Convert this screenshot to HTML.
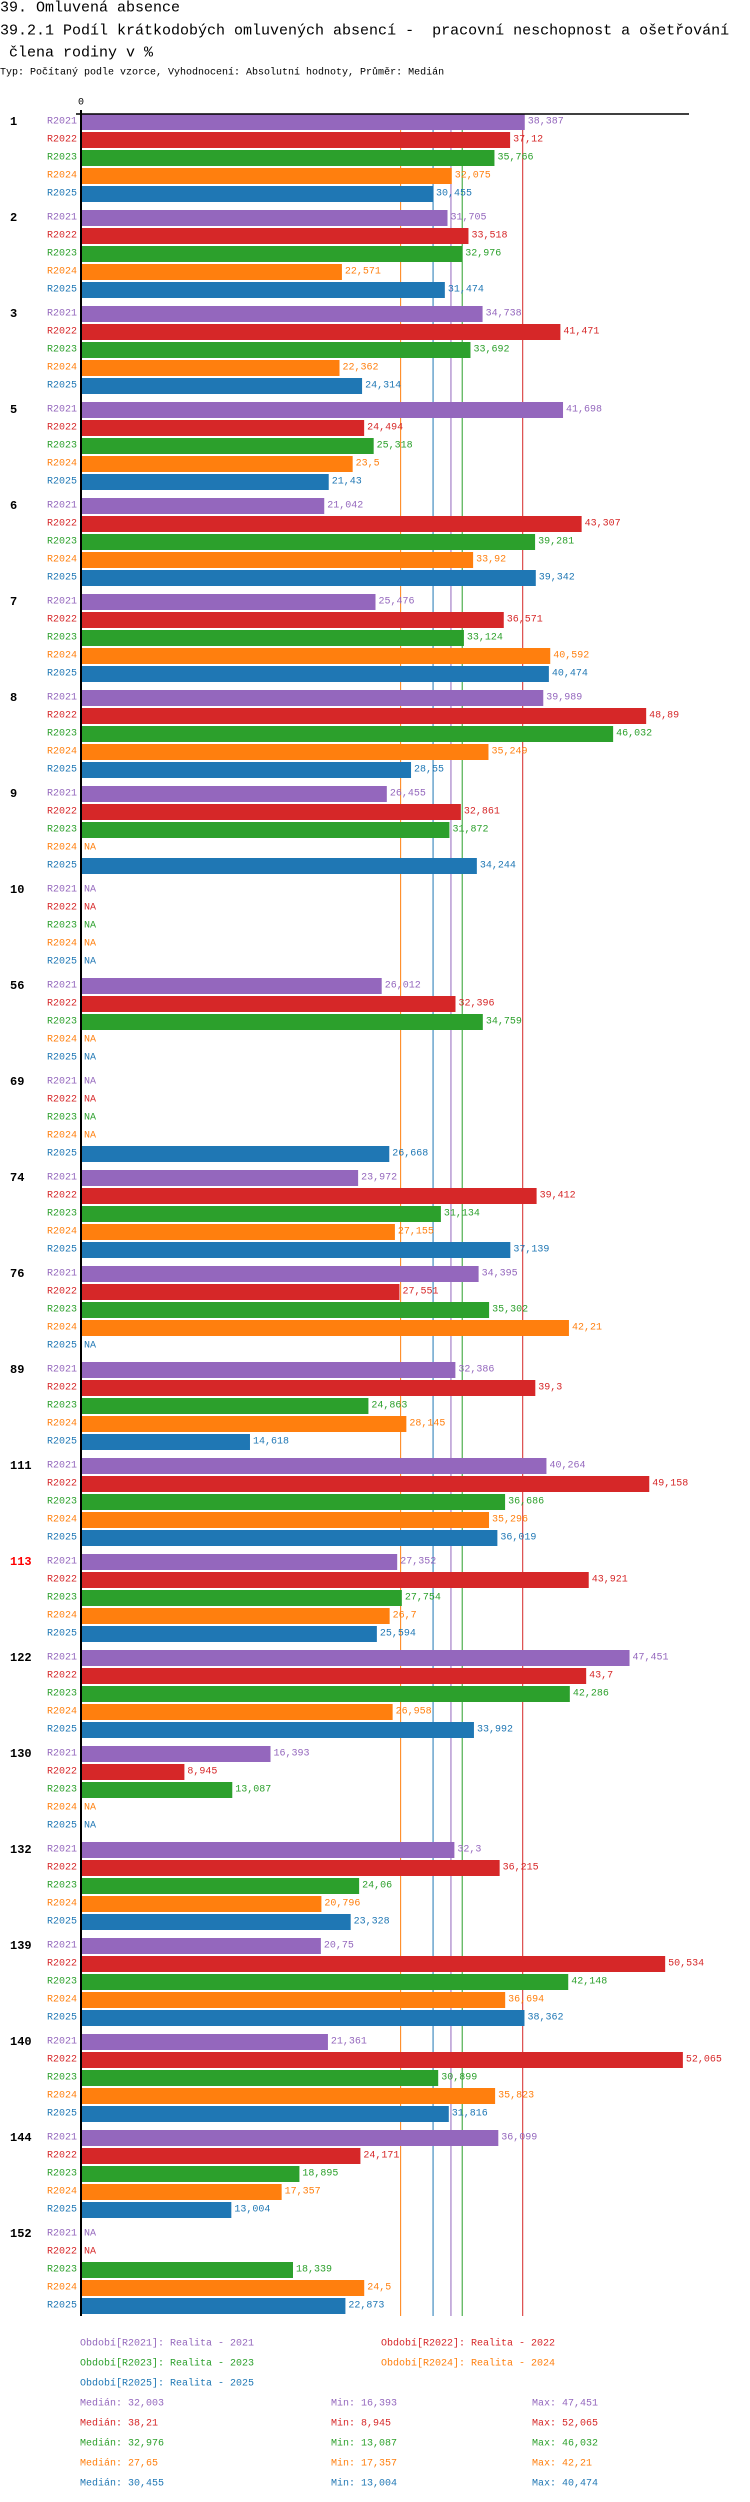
<!DOCTYPE html>
<html><head><meta charset="utf-8"><style>
html,body{margin:0;padding:0;background:#fff;}
svg{display:block;}
text{font-family:"Liberation Mono","DejaVu Sans Mono",monospace;}
</style></head>
<body>
<svg id="chart" width="750" height="2502" viewBox="0 0 750 2502" xmlns="http://www.w3.org/2000/svg">
<text x="0" y="8" dominant-baseline="central" font-size="15">39. Omluvená absence</text>
<text x="0" y="31" dominant-baseline="central" font-size="15" xml:space="preserve">39.2.1 Podíl krátkodobých omluvených absencí -  pracovní neschopnost a ošetřování</text>
<text x="0" y="53" dominant-baseline="central" font-size="15" xml:space="preserve"> člena rodiny v %</text>
<text x="0" y="73" dominant-baseline="central" font-size="10">Typ: Počítaný podle vzorce, Vyhodnocení: Absolutní hodnoty, Průměr: Medián</text>
<g id="grid"></g><g id="bars"></g><g id="axes"></g><g id="legend"></g>
</svg>
<script>
const categories = ["1","2","3","5","6","7","8","9","10","56","69","74","76","89","111","113","122","130","132","139","140","144","152"];
const seriesNames = ["R2021","R2022","R2023","R2024","R2025"];
const s2021 = [38.387,31.705,34.738,41.698,21.042,25.476,39.989,26.455,null,26.012,null,23.972,34.395,32.386,40.264,27.352,47.451,16.393,32.3,20.75,21.361,36.099,null];
const s2022 = [37.12,33.518,41.471,24.494,43.307,36.571,48.89,32.861,null,32.396,null,39.412,27.551,39.3,49.158,43.921,43.7,8.945,36.215,50.534,52.065,24.171,null];
const s2023 = [35.766,32.976,33.692,25.318,39.281,33.124,46.032,31.872,null,34.759,null,31.134,35.302,24.863,36.686,27.754,42.286,13.087,24.06,42.148,30.899,18.895,18.339];
const s2024 = [32.075,22.571,22.362,23.5,33.92,40.592,35.249,null,null,null,null,27.155,42.21,28.145,35.296,26.7,26.958,null,20.796,36.694,35.823,17.357,24.5];
const s2025 = [30.455,31.474,24.314,21.43,39.342,40.474,28.55,34.244,null,null,26.668,37.139,null,14.618,36.019,25.594,33.992,null,23.328,38.362,31.816,13.004,22.873];
const medians = [32.003,38.21,32.976,27.65,30.455];
const mins = [16.393,8.945,13.087,17.357,13.004];
const maxs = [47.451,52.065,46.032,42.21,40.474];
const legendLabels = ["Období[R2021]: Realita - 2021","Období[R2022]: Realita - 2022","Období[R2023]: Realita - 2023","Období[R2024]: Realita - 2024","Období[R2025]: Realita - 2025"];

const series = [s2021,s2022,s2023,s2024,s2025];
const colors = ["#9467bd","#d62728","#2ca02c","#ff7f0e","#1f77b4"];
const NS = "http://www.w3.org/2000/svg";
const X0 = 81, PXU = 11.56, TOP = 114, GP = 96, RP = 18, BH = 16;
const bottom = TOP + GP*categories.length - 6;
function xs(v){ return X0 + v*PXU; }
function rowY(g,i){ return TOP + g*GP + i*RP; }
function mk(tag, attrs, parent){ const e=document.createElementNS(NS,tag); for(const k in attrs) e.setAttribute(k,attrs[k]); parent.appendChild(e); return e; }
const grid=document.getElementById('grid'), bars=document.getElementById('bars'), axes=document.getElementById('axes'), legend=document.getElementById('legend');

medians.forEach((m,i)=>{
  const l=mk('line',{x1:xs(m),x2:xs(m),y1:TOP,y2:bottom,stroke:colors[i],'stroke-width':1},grid);
  
  
});

categories.forEach((c,g)=>{
  const gl=mk('text',{x:10,y:rowY(g,0)+8,'dominant-baseline':'central','font-size':12,'font-weight':'bold',fill:c==="113"?"#ff0000":"#000"},axes);
  gl.textContent=c;
  
  
  series.forEach((s,i)=>{
    const y=rowY(g,i), v=s[g];
    const sl=mk('text',{x:77,y:y+8,'text-anchor':'end','dominant-baseline':'central','font-size':10,fill:colors[i]},bars);
    sl.textContent=seriesNames[i];
    
    
    let tx=X0+3, txt="NA";
    if(v!==null){
      const r=mk('rect',{x:X0,y:y,width:xs(v)-X0,height:BH,fill:colors[i]},bars);
      
      
      tx=xs(v)+3; txt=String(v).replace('.',',');
    }
    const vl=mk('text',{x:tx,y:y+8,'dominant-baseline':'central','font-size':10,fill:colors[i]},bars);
    vl.textContent=txt;
    
    
  });
});

const ax=mk('line',{x1:76,x2:689,y1:TOP,y2:TOP,stroke:'#000','stroke-width':1.5},axes);


const ay=mk('line',{x1:X0,x2:X0,y1:TOP-4,y2:bottom,stroke:'#000','stroke-width':2},axes);


const z=mk('text',{x:X0,y:103,'text-anchor':'middle','dominant-baseline':'central','font-size':10},axes);
z.textContent="0";



const lpos=[[80,2344],[381,2344],[80,2364],[381,2364],[80,2384]];
legendLabels.forEach((t,i)=>{
  const e=mk('text',{x:lpos[i][0],y:lpos[i][1],'dominant-baseline':'central','font-size':10,fill:colors[i]},legend);
  e.textContent=t;
  
  
});
const fmt=v=>String(v).replace('.',',');
medians.forEach((m,i)=>{
  const y=2404+i*20;
  const a=mk('text',{x:80,y:y,'dominant-baseline':'central','font-size':10,fill:colors[i]},legend);
  a.textContent="Medián: "+fmt(m);
  
  
  const b=mk('text',{x:331,y:y,'dominant-baseline':'central','font-size':10,fill:colors[i]},legend);
  b.textContent="Min: "+fmt(mins[i]);
  
  
  const d=mk('text',{x:532,y:y,'dominant-baseline':'central','font-size':10,fill:colors[i]},legend);
  d.textContent="Max: "+fmt(maxs[i]);
  
  
});
</script>
</body></html>
